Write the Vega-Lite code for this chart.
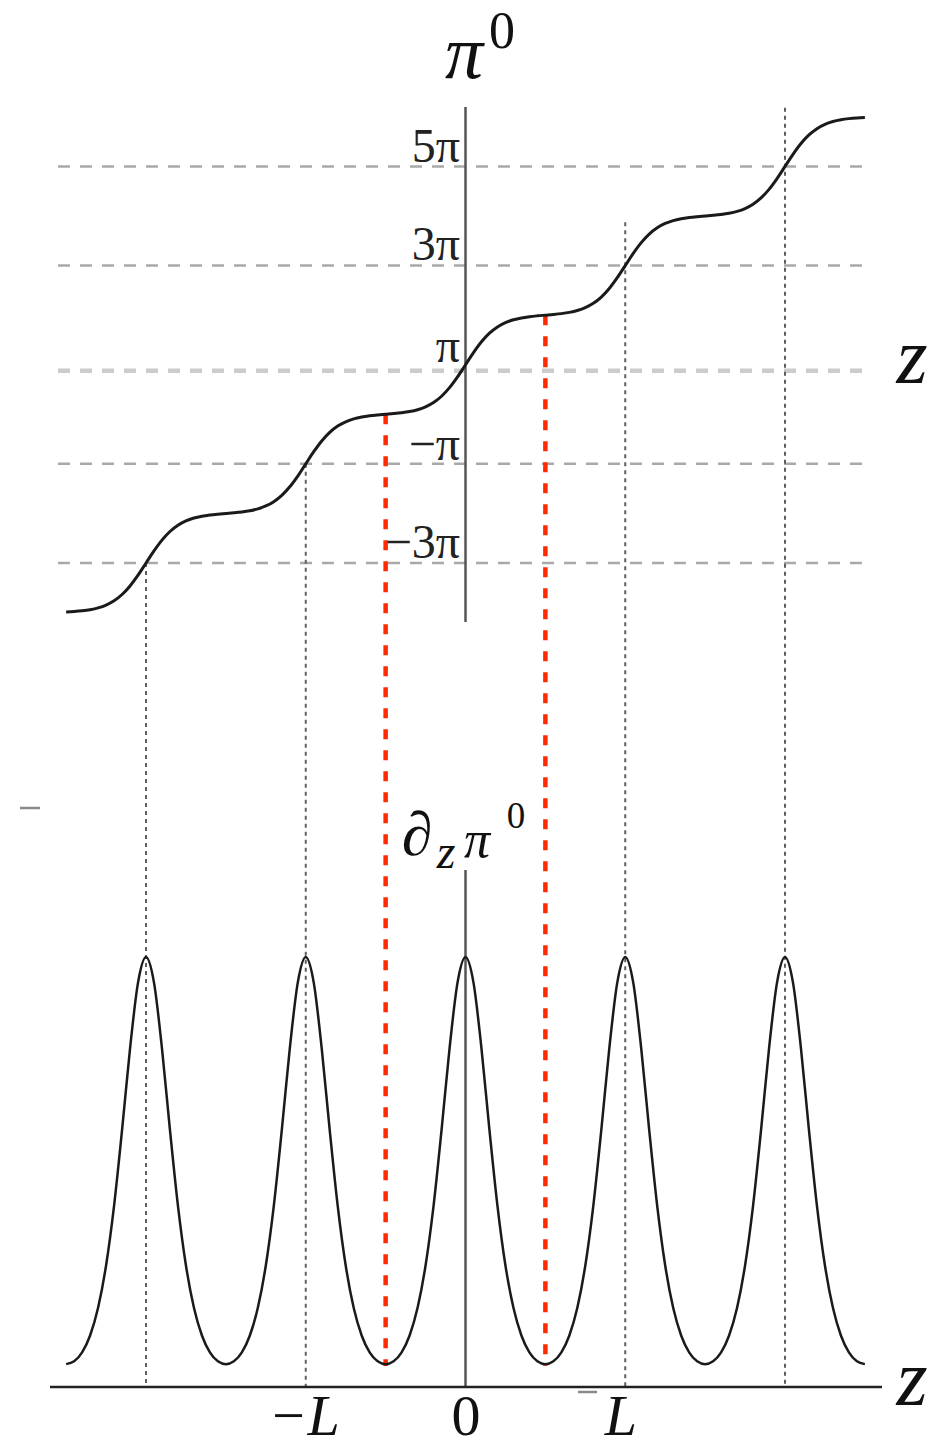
{
 "$schema": "https://vega.github.io/schema/vega-lite/v6.json",
 "width": 949, "height": 1447, "padding": 0,
 "autosize": {"type": "none"},
 "background": "white",
 "config": {"view": {"stroke": null}},
 "datasets": {
  "curve": [
   {"u":-2.5,"th":-3.9866,"b":0.0532},{"u":-2.45,"th":-3.978,"b":0.0598},{"u":-2.4,"th":-3.964,"b":0.0805},{"u":-2.35,"th":-3.9414,"b":0.1198},{"u":-2.3,"th":-3.9051,"b":0.1843},{"u":-2.25,"th":-3.8483,"b":0.2826},{"u":-2.2,"th":-3.7616,"b":0.4213},{"u":-2.15,"th":-3.6351,"b":0.5974},{"u":-2.1,"th":-3.4621,"b":0.787},{"u":-2.05,"th":-3.2449,"b":0.9404},
   {"u":-2,"th":-3,"b":1},{"u":-1.95,"th":-2.7549,"b":0.9404},{"u":-1.9,"th":-2.5376,"b":0.787},{"u":-1.85,"th":-2.3644,"b":0.5974},{"u":-1.8,"th":-2.2377,"b":0.4213},{"u":-1.75,"th":-2.1506,"b":0.2826},{"u":-1.7,"th":-2.093,"b":0.1843},{"u":-1.65,"th":-2.0556,"b":0.1198},{"u":-1.6,"th":-2.031,"b":0.0805},{"u":-1.55,"th":-2.0138,"b":0.0598},
   {"u":-1.5,"th":-2,"b":0.0532},{"u":-1.45,"th":-1.9862,"b":0.0598},{"u":-1.4,"th":-1.969,"b":0.0805},{"u":-1.35,"th":-1.9444,"b":0.1198},{"u":-1.3,"th":-1.907,"b":0.1843},{"u":-1.25,"th":-1.8494,"b":0.2826},{"u":-1.2,"th":-1.7623,"b":0.4213},{"u":-1.15,"th":-1.6356,"b":0.5974},{"u":-1.1,"th":-1.4624,"b":0.787},{"u":-1.05,"th":-1.2451,"b":0.9404},
   {"u":-1,"th":-1,"b":1},{"u":-0.95,"th":-0.7549,"b":0.9404},{"u":-0.9,"th":-0.5376,"b":0.787},{"u":-0.85,"th":-0.3644,"b":0.5974},{"u":-0.8,"th":-0.2377,"b":0.4213},{"u":-0.75,"th":-0.1506,"b":0.2826},{"u":-0.7,"th":-0.093,"b":0.1843},{"u":-0.65,"th":-0.0556,"b":0.1198},{"u":-0.6,"th":-0.031,"b":0.0805},{"u":-0.55,"th":-0.0138,"b":0.0598},
   {"u":-0.5,"th":0,"b":0.0532},{"u":-0.45,"th":0.0138,"b":0.0598},{"u":-0.4,"th":0.031,"b":0.0805},{"u":-0.35,"th":0.0556,"b":0.1198},{"u":-0.3,"th":0.093,"b":0.1843},{"u":-0.25,"th":0.1506,"b":0.2826},{"u":-0.2,"th":0.2377,"b":0.4213},{"u":-0.15,"th":0.3644,"b":0.5974},{"u":-0.1,"th":0.5376,"b":0.787},{"u":-0.05,"th":0.7549,"b":0.9404},
   {"u":0,"th":1,"b":1},{"u":0.05,"th":1.2451,"b":0.9404},{"u":0.1,"th":1.4624,"b":0.787},{"u":0.15,"th":1.6356,"b":0.5974},{"u":0.2,"th":1.7623,"b":0.4213},{"u":0.25,"th":1.8494,"b":0.2826},{"u":0.3,"th":1.907,"b":0.1843},{"u":0.35,"th":1.9444,"b":0.1198},{"u":0.4,"th":1.969,"b":0.0805},{"u":0.45,"th":1.9862,"b":0.0598},
   {"u":0.5,"th":2,"b":0.0532},{"u":0.55,"th":2.0138,"b":0.0598},{"u":0.6,"th":2.031,"b":0.0805},{"u":0.65,"th":2.0556,"b":0.1198},{"u":0.7,"th":2.093,"b":0.1843},{"u":0.75,"th":2.1506,"b":0.2826},{"u":0.8,"th":2.2377,"b":0.4213},{"u":0.85,"th":2.3644,"b":0.5974},{"u":0.9,"th":2.5376,"b":0.787},{"u":0.95,"th":2.7549,"b":0.9404},
   {"u":1,"th":3,"b":1},{"u":1.05,"th":3.2451,"b":0.9404},{"u":1.1,"th":3.4624,"b":0.787},{"u":1.15,"th":3.6356,"b":0.5974},{"u":1.2,"th":3.7623,"b":0.4213},{"u":1.25,"th":3.8494,"b":0.2826},{"u":1.3,"th":3.907,"b":0.1843},{"u":1.35,"th":3.9444,"b":0.1198},{"u":1.4,"th":3.969,"b":0.0805},{"u":1.45,"th":3.9862,"b":0.0598},
   {"u":1.5,"th":4,"b":0.0532},{"u":1.55,"th":4.0138,"b":0.0598},{"u":1.6,"th":4.031,"b":0.0805},{"u":1.65,"th":4.0556,"b":0.1198},{"u":1.7,"th":4.093,"b":0.1843},{"u":1.75,"th":4.1506,"b":0.2826},{"u":1.8,"th":4.2377,"b":0.4213},{"u":1.85,"th":4.3644,"b":0.5974},{"u":1.9,"th":4.5376,"b":0.787},{"u":1.95,"th":4.7549,"b":0.9404},
   {"u":2,"th":5,"b":1},{"u":2.05,"th":5.2449,"b":0.9404},{"u":2.1,"th":5.4621,"b":0.787},{"u":2.15,"th":5.6351,"b":0.5974},{"u":2.2,"th":5.7616,"b":0.4213},{"u":2.25,"th":5.8483,"b":0.2826},{"u":2.3,"th":5.9051,"b":0.1843},{"u":2.35,"th":5.9414,"b":0.1198},{"u":2.4,"th":5.964,"b":0.0805},{"u":2.45,"th":5.978,"b":0.0598},
   {"u":2.5,"th":5.9866,"b":0.0532}
  ],
  "grid": [{"th":5,"u1":-2.551,"u2":2.513},{"th":3,"u1":-2.551,"u2":2.513},{"th":-1,"u1":-2.551,"u2":2.513},{"th":-3,"u1":-2.551,"u2":2.513}],
  "zline": [{"th":0.879,"u1":-2.551,"u2":2.513}],
  "vaxisTop": [{"u":0,"y1":6.199,"y2":-4.19}],
  "dotted": [{"u":-2,"y1":-3,"y2":-19.62},{"u":-1,"y1":-1,"y2":-19.62},{"u":1,"y1":3.876,"y2":-19.62},{"u":2,"y1":6.183,"y2":-19.62}],
  "red": [{"u":-0.5,"y1":0,"y2":-19.197},{"u":0.5,"y1":2,"y2":-19.197}],
  "ticks": [{"t":"5π","u":-0.0344,"th":5.09},{"t":"3π","u":-0.0344,"th":3.113},{"t":"π","u":-0.0344,"th":1.055},{"t":"−π","u":-0.0344,"th":-0.922},{"t":"−3π","u":-0.0344,"th":-2.899}],
  "vaxisBot": [{"u":0,"y1":1.2023,"y2":0}],
  "haxisBot": [{"b":0,"u1":-2.601,"u2":2.607}],
  "marks": [{"b":1.3465,"u1":-2.789,"u2":-2.664},{"b":-0.0116,"u1":0.704,"u2":0.823}]
 },
 "layer": [
  {
   "layer": [
    {"data": {"name": "grid"}, "mark": {"type": "rule", "color": "#a9a9a9", "strokeWidth": 2.5, "strokeDash": [12, 10]},
     "encoding": {"x": {"field": "u1", "type": "quantitative", "scale": {"domain": [-2.914, 3.0266], "nice": false, "zero": false}, "axis": null}, "x2": {"field": "u2"},
      "y": {"field": "th", "type": "quantitative", "scale": {"domain": [-20.831, 8.357], "nice": false, "zero": false}, "axis": null}}},
    {"data": {"name": "zline"}, "mark": {"type": "rule", "color": "#cccccc", "strokeWidth": 4.5, "strokeDash": [12, 10]},
     "encoding": {"x": {"field": "u1", "type": "quantitative", "axis": null}, "x2": {"field": "u2"},
      "y": {"field": "th", "type": "quantitative", "axis": null}}},
    {"data": {"name": "vaxisTop"}, "mark": {"type": "rule", "color": "#555555", "strokeWidth": 2.5},
     "encoding": {"x": {"field": "u", "type": "quantitative", "axis": null},
      "y": {"field": "y1", "type": "quantitative", "axis": null}, "y2": {"field": "y2"}}},
    {"data": {"name": "dotted"}, "mark": {"type": "rule", "color": "#5e5e5e", "strokeWidth": 2, "strokeDash": [4, 4]},
     "encoding": {"x": {"field": "u", "type": "quantitative", "axis": null},
      "y": {"field": "y1", "type": "quantitative", "axis": null}, "y2": {"field": "y2"}}},
    {"data": {"name": "red"}, "mark": {"type": "rule", "color": "#ff2a00", "strokeWidth": 4.5, "strokeDash": [10, 11]},
     "encoding": {"x": {"field": "u", "type": "quantitative", "axis": null},
      "y": {"field": "y1", "type": "quantitative", "axis": null}, "y2": {"field": "y2"}}},
    {"data": {"name": "curve"}, "mark": {"type": "line", "color": "#1a1a1a", "strokeWidth": 3, "interpolate": "monotone"},
     "encoding": {"x": {"field": "u", "type": "quantitative", "axis": null},
      "y": {"field": "th", "type": "quantitative", "axis": null}}},
    {"data": {"name": "ticks"}, "mark": {"type": "text", "font": "Liberation Serif", "fontSize": 48, "align": "right", "baseline": "alphabetic", "color": "#222222"},
     "encoding": {"x": {"field": "u", "type": "quantitative", "axis": null},
      "y": {"field": "th", "type": "quantitative", "axis": null}, "text": {"field": "t"}}},
    {"data": {"values": [{"t": "π", "u": -0.0094, "th": 6.784}]}, "mark": {"type": "text", "font": "Liberation Serif", "fontStyle": "italic", "fontSize": 76, "align": "center", "baseline": "alphabetic", "color": "#111111"},
     "encoding": {"x": {"field": "u", "type": "quantitative", "axis": null},
      "y": {"field": "th", "type": "quantitative", "axis": null}, "text": {"field": "t"}}},
    {"data": {"values": [{"t": "0", "u": 0.2285, "th": 7.389}]}, "mark": {"type": "text", "font": "Liberation Serif", "fontSize": 52, "align": "center", "baseline": "alphabetic", "color": "#111111"},
     "encoding": {"x": {"field": "u", "type": "quantitative", "axis": null},
      "y": {"field": "th", "type": "quantitative", "axis": null}, "text": {"field": "t"}}},
    {"data": {"values": [{"t": "z", "u": 2.795, "th": 0.631}]}, "mark": {"type": "text", "font": "Liberation Serif", "fontStyle": "italic", "fontSize": 80, "align": "center", "baseline": "alphabetic", "color": "#111111"},
     "encoding": {"x": {"field": "u", "type": "quantitative", "axis": null},
      "y": {"field": "th", "type": "quantitative", "axis": null}, "text": {"field": "t"}}}
   ]
  },
  {
   "layer": [
    {"data": {"name": "vaxisBot"}, "mark": {"type": "rule", "color": "#555555", "strokeWidth": 2.5},
     "encoding": {"x": {"field": "u", "type": "quantitative", "axis": null},
      "y": {"field": "y1", "type": "quantitative", "scale": {"domain": [-0.1395, 3.2256], "nice": false, "zero": false}, "axis": null}, "y2": {"field": "y2"}}},
    {"data": {"name": "haxisBot"}, "mark": {"type": "rule", "color": "#222222", "strokeWidth": 2.5},
     "encoding": {"x": {"field": "u1", "type": "quantitative", "axis": null}, "x2": {"field": "u2"},
      "y": {"field": "b", "type": "quantitative", "axis": null}}},
    {"data": {"name": "marks"}, "mark": {"type": "rule", "color": "#8a8a8a", "strokeWidth": 2.5},
     "encoding": {"x": {"field": "u1", "type": "quantitative", "axis": null}, "x2": {"field": "u2"},
      "y": {"field": "b", "type": "quantitative", "axis": null}}},
    {"data": {"name": "curve"}, "mark": {"type": "line", "color": "#1a1a1a", "strokeWidth": 2.5, "interpolate": "monotone"},
     "encoding": {"x": {"field": "u", "type": "quantitative", "axis": null},
      "y": {"field": "b", "type": "quantitative", "axis": null}}},
    {"data": {"values": [{"t": "∂", "u": -0.3036, "b": 1.2372}]}, "mark": {"type": "text", "font": "Liberation Serif", "fontSize": 62, "align": "center", "baseline": "alphabetic", "color": "#111111"},
     "encoding": {"x": {"field": "u", "type": "quantitative", "axis": null},
      "y": {"field": "b", "type": "quantitative", "axis": null}, "text": {"field": "t"}}},
    {"data": {"values": [{"t": "z", "u": -0.1221, "b": 1.207}]}, "mark": {"type": "text", "font": "Liberation Serif", "fontStyle": "italic", "fontSize": 48, "align": "center", "baseline": "alphabetic", "color": "#111111"},
     "encoding": {"x": {"field": "u", "type": "quantitative", "axis": null},
      "y": {"field": "b", "type": "quantitative", "axis": null}, "text": {"field": "t"}}},
    {"data": {"values": [{"t": "π", "u": 0.072, "b": 1.2326}]}, "mark": {"type": "text", "font": "Liberation Serif", "fontStyle": "italic", "fontSize": 52, "align": "center", "baseline": "alphabetic", "color": "#111111"},
     "encoding": {"x": {"field": "u", "type": "quantitative", "axis": null},
      "y": {"field": "b", "type": "quantitative", "axis": null}, "text": {"field": "t"}}},
    {"data": {"values": [{"t": "0", "u": 0.3161, "b": 1.3}]}, "mark": {"type": "text", "font": "Liberation Serif", "fontSize": 37, "align": "center", "baseline": "alphabetic", "color": "#111111"},
     "encoding": {"x": {"field": "u", "type": "quantitative", "axis": null},
      "y": {"field": "b", "type": "quantitative", "axis": null}, "text": {"field": "t"}}},
    {"data": {"values": [{"t": "z", "u": 2.795, "b": -0.0419}]}, "mark": {"type": "text", "font": "Liberation Serif", "fontStyle": "italic", "fontSize": 80, "align": "center", "baseline": "alphabetic", "color": "#111111"},
     "encoding": {"x": {"field": "u", "type": "quantitative", "axis": null},
      "y": {"field": "b", "type": "quantitative", "axis": null}, "text": {"field": "t"}}},
    {"data": {"values": [{"t": "−L", "u": -1.011, "b": -0.1393}, {"t": "L", "u": 0.973, "b": -0.1393}]}, "mark": {"type": "text", "font": "Liberation Serif", "fontStyle": "italic", "fontSize": 58, "align": "center", "baseline": "bottom", "color": "#111111"},
     "encoding": {"x": {"field": "u", "type": "quantitative", "axis": null},
      "y": {"field": "b", "type": "quantitative", "axis": null}, "text": {"field": "t"}}},
    {"data": {"values": [{"t": "0", "u": 0.003, "b": -0.1393}]}, "mark": {"type": "text", "font": "Liberation Serif", "fontSize": 58, "align": "center", "baseline": "bottom", "color": "#111111"},
     "encoding": {"x": {"field": "u", "type": "quantitative", "axis": null},
      "y": {"field": "b", "type": "quantitative", "axis": null}, "text": {"field": "t"}}}
   ]
  }
 ],
 "resolve": {"scale": {"y": "independent"}}
}
